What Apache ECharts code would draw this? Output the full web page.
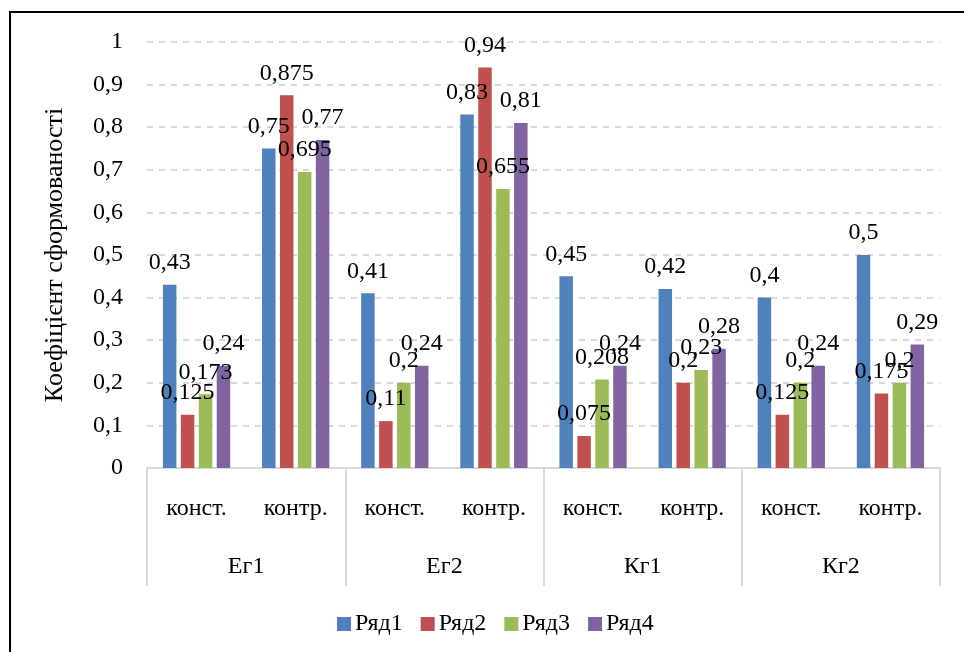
<!DOCTYPE html>
<html>
<head>
<meta charset="utf-8">
<script src="https://cdn.jsdelivr.net/npm/echarts@6/dist/echarts.min.js"></script>
<style>
  html, body { margin: 0; padding: 0; background: #fff; }
  #chart { width: 964px; height: 652px; }
</style>
</head>
<body>
<div id="chart"></div>
<script>
// Categories: two levels (treatment inside each group)
const subCategories = ['конст.', 'контр.', 'конст.', 'контр.', 'конст.', 'контр.', 'конст.', 'контр.'];
const groups = ['Ег1', 'Ег2', 'Кг1', 'Кг2'];
const seriesNames = ['Ряд1', 'Ряд2', 'Ряд3', 'Ряд4'];

// Values per series
const row1 = [0.43, 0.75, 0.41, 0.83, 0.45, 0.42, 0.4, 0.5];
const row2 = [0.125, 0.875, 0.11, 0.94, 0.075, 0.2, 0.125, 0.175];
const row3 = [0.173, 0.695, 0.2, 0.655, 0.208, 0.23, 0.2, 0.2];
const row4 = [0.24, 0.77, 0.24, 0.81, 0.24, 0.28, 0.24, 0.29];

const colors = ['#4F81BD', '#C0504D', '#9BBB59', '#8064A2'];
const FONT = "'Liberation Serif', 'Times New Roman', serif";
const FS = 24;
const comma = v => String(v).replace('.', ',');

const chart = echarts.init(document.getElementById('chart'), null, { renderer: 'canvas' });

const makeSeries = (name, data, i) => ({
  name: name,
  type: 'bar',
  data: data,
  xAxisIndex: 0,
  barWidth: '13.6%',
  barGap: '33%',
  itemStyle: { color: colors[i] },
  label: {
    show: true,
    position: 'top',
    distance: 10,
    color: '#000',
    fontFamily: FONT,
    fontSize: FS,
    formatter: p => comma(p.value)
  }
});

chart.setOption({
  animation: false,
  textStyle: { fontFamily: FONT },
  color: colors,
  graphic: [{
    type: 'rect',
    shape: { x: 10, y: 12, width: 1000, height: 700 },
    style: { fill: 'none', stroke: '#000', lineWidth: 2 },
    silent: true
  }],
  grid: { left: 147, right: 24, top: 42, bottom: 184 },
  legend: {
    data: seriesNames,
    left: 332,
    top: 607,
    icon: 'rect',
    itemWidth: 14,
    itemHeight: 14,
    itemGap: 18,
    textStyle: { fontFamily: FONT, fontSize: FS, color: '#000', padding: [0, 0, 0, -1] }
  },
  xAxis: [{
    type: 'category',
    data: subCategories,
    position: 'bottom',
    axisLine: { show: true, lineStyle: { color: '#D9D9D9', width: 2 } },
    axisTick: { show: false },
    axisLabel: { interval: 0, margin: 29, color: '#000', fontFamily: FONT, fontSize: FS },
    splitLine: { show: false }
  }, {
    type: 'category',
    data: groups,
    position: 'bottom',
    axisLine: { show: false },
    axisTick: { show: true, interval: 0, length: 118, lineStyle: { color: '#D9D9D9', width: 2 } },
    axisLabel: { interval: 0, margin: 87, color: '#000', fontFamily: FONT, fontSize: FS },
    splitLine: { show: false }
  }],
  yAxis: {
    type: 'value',
    min: 0,
    max: 1,
    interval: 0.1,
    name: 'Коефіцієнт сформованості',
    nameLocation: 'middle',
    nameGap: 79,
    nameTextStyle: { fontFamily: FONT, fontSize: 26, color: '#000' },
    axisLine: { show: false },
    axisTick: { show: false },
    axisLabel: {
      margin: 24,
      color: '#000',
      fontFamily: FONT,
      fontSize: FS,
      formatter: v => comma(+v.toFixed(1))
    },
    splitLine: { show: true, lineStyle: { color: '#D9D9D9', width: 2, type: [6, 6] } }
  },
  series: [
    makeSeries(seriesNames[0], row1, 0),
    makeSeries(seriesNames[1], row2, 1),
    makeSeries(seriesNames[2], row3, 2),
    makeSeries(seriesNames[3], row4, 3)
  ]
});
</script>
</body>
</html>
